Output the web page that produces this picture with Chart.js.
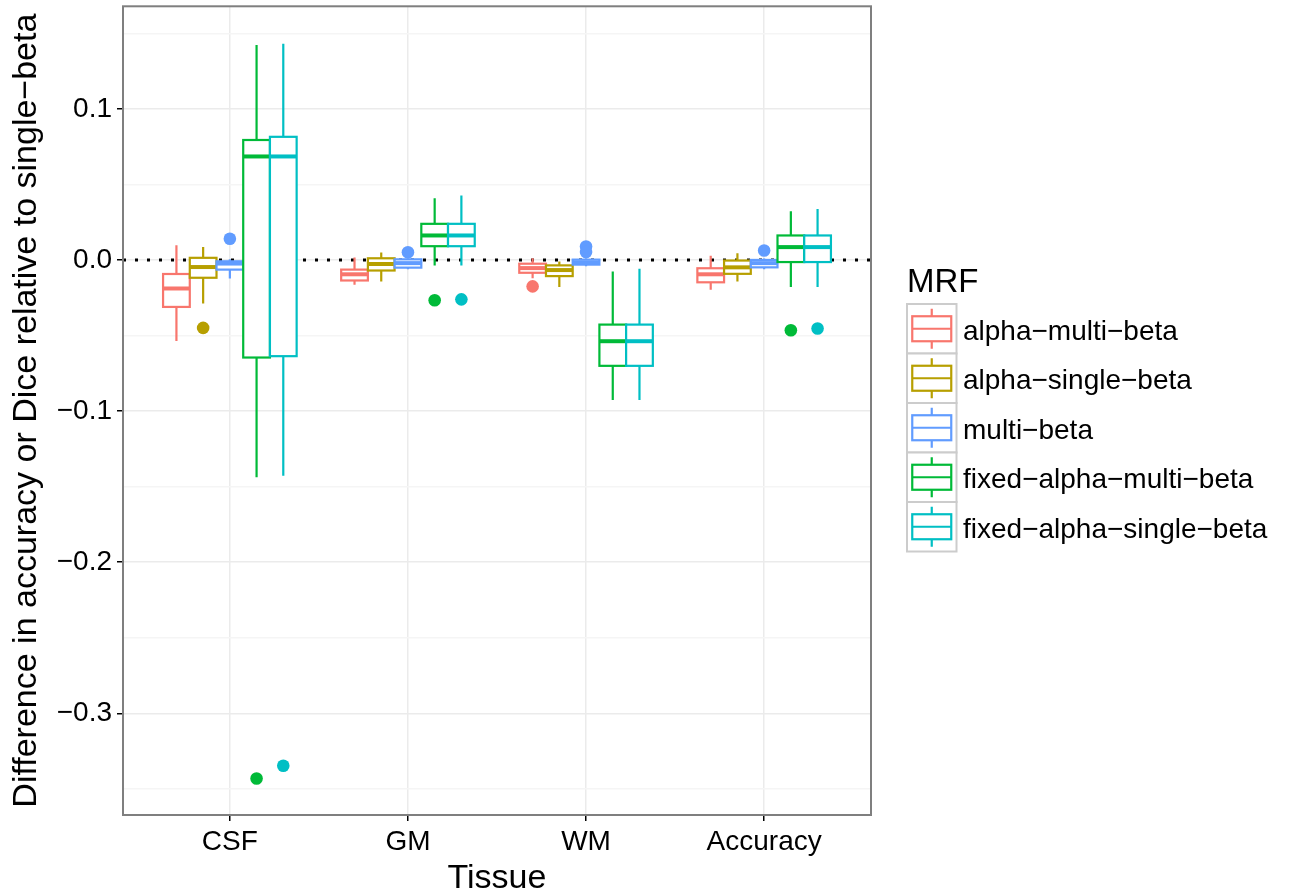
<!DOCTYPE html>
<html>
<head>
<meta charset="utf-8">
<script src="https://cdn.jsdelivr.net/npm/chart.js@4.4.1/dist/chart.umd.min.js"></script>
<style>
  html, body { margin: 0; padding: 0; background: #fff; }
  #wrap { width: 1295px; height: 896px; position: relative; }
</style>
</head>
<body>
<div id="wrap"><canvas id="chart"></canvas></div>
<script>
// categories on the x axis
const categories = ['CSF', 'GM', 'WM', 'Accuracy'];

// MRF variants (legend order)
const seriesNames = ['alpha−multi−beta', 'alpha−single−beta', 'multi−beta', 'fixed−alpha−multi−beta', 'fixed−alpha−single−beta'];
const seriesColors = ['#F8766D', '#B79F00', '#619CFF', '#00BA38', '#00BFC4'];

// box statistics, one row per series, columns = CSF, GM, WM, Accuracy
const whiskerHigh = [
  [0.0099, 0.0017, 0.0013, 0.0028],
  [0.0086, 0.0050, -0.0009, 0.0045],
  [0.0005, 0.0010, 0.0010, 0.0010],
  [0.1424, 0.0409, -0.0075, 0.0323],
  [0.1432, 0.0427, -0.0057, 0.0339]
];
const q3 = [
  [-0.0092, -0.0063, -0.0024, -0.0054],
  [0.0015, 0.0012, -0.0035, -0.0003],
  [-0.0008, 0.0005, 0.0003, 0.0001],
  [0.0795, 0.0240, -0.0427, 0.0163],
  [0.0816, 0.0240, -0.0427, 0.0163]
];
const median = [
  [-0.0188, -0.0094, -0.0053, -0.0094],
  [-0.0046, -0.0026, -0.0066, -0.0048],
  [-0.0023, -0.0020, -0.0015, -0.0020],
  [0.0686, 0.0163, -0.0537, 0.0086],
  [0.0686, 0.0163, -0.0537, 0.0086]
];
const q1 = [
  [-0.0310, -0.0135, -0.0084, -0.0147],
  [-0.0117, -0.0069, -0.0106, -0.0091],
  [-0.0063, -0.0050, -0.0030, -0.0048],
  [-0.0645, 0.0092, -0.0700, -0.0013],
  [-0.0636, 0.0092, -0.0700, -0.0013]
];
const whiskerLow = [
  [-0.0535, -0.0164, -0.0120, -0.0197],
  [-0.0288, -0.0142, -0.0178, -0.0142],
  [-0.0122, -0.0060, -0.0040, -0.0060],
  [-0.1437, -0.0035, -0.0926, -0.0178],
  [-0.1428, -0.0035, -0.0926, -0.0178]
];
// outliers per series: [category index, value]
const outliers = [
  [[2, -0.0174]],
  [[0, -0.0449]],
  [[0, 0.0141], [1, 0.0052], [2, 0.0090], [2, 0.0053], [3, 0.0063]],
  [[0, -0.3432], [1, -0.0266], [3, -0.0464]],
  [[0, -0.3347], [1, -0.0260], [3, -0.0453]]
];

// axis ticks
const yMajorTicks = [-0.3, -0.2, -0.1, 0.0, 0.1];
const yTickLabels = ['−0.3', '−0.2', '−0.1', '0.0', '0.1'];
const yMinorTicks = [-0.35, -0.25, -0.15, -0.05, 0.05, 0.15];

const FONT = '"Liberation Sans", Arial, Helvetica, sans-serif';
const boxStep = 0.15;      // dodge width 0.75 / 5 series
const offsetOf = s => (s - 2) * boxStep;
const LW = 2.2;            // box outline width
const MED_LW = 4;          // median line width

function majorIndex(v) {
  return yMajorTicks.findIndex(m => Math.abs(m - v) < 1e-9);
}

const datasets = seriesNames.map((name, s) => ({
  label: name,
  data: outliers[s].map(([c, v]) => ({ x: c + 1 + offsetOf(s), y: v })),
  backgroundColor: seriesColors[s],
  borderWidth: 0,
  pointRadius: 6.3,
  pointHoverRadius: 6.3
}));

const boxPlugin = {
  id: 'boxes',
  beforeDatasetsDraw(chart) {
    const { ctx, chartArea } = chart;
    const y0 = chart.scales.y.getPixelForValue(0);
    ctx.save();
    ctx.strokeStyle = '#000';
    ctx.lineWidth = 3;
    ctx.setLineDash([3, 9]);
    ctx.beginPath();
    ctx.moveTo(chartArea.left, y0);
    ctx.lineTo(chartArea.right, y0);
    ctx.stroke();
    ctx.restore();
  },
  afterDatasetsDraw(chart) {
    const { ctx } = chart;
    const xs = chart.scales.x, ys = chart.scales.y;
    ctx.save();
    seriesNames.forEach((name, s) => {
      categories.forEach((cat, c) => {
        const xc = xs.getPixelForValue(c + 1 + offsetOf(s));
        const xl = xs.getPixelForValue(c + 1 + offsetOf(s) - boxStep / 2);
        const xr = xs.getPixelForValue(c + 1 + offsetOf(s) + boxStep / 2);
        const yHi = ys.getPixelForValue(whiskerHigh[s][c]);
        const yQ3 = ys.getPixelForValue(q3[s][c]);
        const yMed = ys.getPixelForValue(median[s][c]);
        const yQ1 = ys.getPixelForValue(q1[s][c]);
        const yLo = ys.getPixelForValue(whiskerLow[s][c]);
        ctx.strokeStyle = seriesColors[s];
        ctx.lineWidth = LW;
        ctx.lineCap = 'butt';
        ctx.beginPath();
        ctx.moveTo(xc, yHi); ctx.lineTo(xc, yQ3);
        ctx.moveTo(xc, yQ1); ctx.lineTo(xc, yLo);
        ctx.stroke();
        ctx.fillStyle = '#fff';
        ctx.fillRect(xl, yQ3, xr - xl, yQ1 - yQ3);
        ctx.strokeRect(xl, yQ3, xr - xl, yQ1 - yQ3);
        ctx.lineWidth = MED_LW;
        ctx.beginPath();
        ctx.moveTo(xl, yMed); ctx.lineTo(xr, yMed);
        ctx.stroke();
      });
    });
    ctx.restore();
  },
  afterDraw(chart) {
    const { ctx, chartArea } = chart;
    ctx.save();
    // panel border
    ctx.strokeStyle = '#7f7f7f';
    ctx.lineWidth = 2;
    ctx.strokeRect(chartArea.left, chartArea.top, chartArea.right - chartArea.left, chartArea.bottom - chartArea.top);

    // legend
    const lx = 907, top0 = 304, kh = 49.5, kw = 49.5;
    ctx.fillStyle = '#000';
    ctx.font = '33px ' + FONT;
    ctx.textBaseline = 'alphabetic';
    ctx.textAlign = 'left';
    ctx.fillText('MRF', lx, 292);
    seriesNames.forEach((name, s) => {
      const ky = top0 + s * kh;
      const cx = lx + kw / 2, cy = ky + kh / 2;
      ctx.fillStyle = '#fff';
      ctx.fillRect(lx, ky, kw, kh);
      ctx.strokeStyle = '#cccccc';
      ctx.lineWidth = 2;
      ctx.strokeRect(lx, ky, kw, kh);
      ctx.strokeStyle = seriesColors[s];
      ctx.lineWidth = LW;
      ctx.beginPath();
      ctx.moveTo(cx, cy - 20); ctx.lineTo(cx, cy - 12.5);
      ctx.moveTo(cx, cy + 12.5); ctx.lineTo(cx, cy + 20);
      ctx.moveTo(cx - 19.5, cy); ctx.lineTo(cx + 19.5, cy);
      ctx.stroke();
      ctx.strokeRect(cx - 19.5, cy - 12.5, 39, 25);
      ctx.fillStyle = '#000';
      ctx.font = '28px ' + FONT;
      ctx.fillText(name, 963, cy + 11);
    });
    ctx.restore();
  }
};

new Chart(document.getElementById('chart'), {
  type: 'scatter',
  data: { datasets },
  options: {
    responsive: true,
    maintainAspectRatio: false,
    animation: false,
    layout: { padding: { top: 4, right: 424, left: 0, bottom: 0 } },
    plugins: { legend: { display: false }, tooltip: { enabled: false } },
    scales: {
      x: {
        type: 'linear',
        min: 0.4,
        max: 4.6,
        afterBuildTicks: sc => { sc.ticks = categories.map((c, i) => ({ value: i + 1 })); },
        afterFit: sc => { sc.height = 81; sc.paddingLeft = 0; sc.paddingRight = 0; },
        ticks: {
          autoSkip: false,
          maxRotation: 0,
          padding: 4,
          color: '#000',
          font: { family: FONT, size: 28 },
          callback: v => categories[Math.round(v) - 1]
        },
        grid: { color: '#ebebeb', lineWidth: 1.5, tickLength: 6, tickColor: '#000', tickWidth: 1.5 },
        border: { display: false },
        title: { display: true, text: 'Tissue', color: '#000', font: { family: FONT, size: 34, lineHeight: 1 }, padding: { top: 0, bottom: 0 } }
      },
      y: {
        type: 'linear',
        min: -0.36733,
        max: 0.16800,
        afterBuildTicks: sc => {
          sc.ticks = yMajorTicks.concat(yMinorTicks).sort((a, b) => a - b).map(v => ({ value: v }));
        },
        afterFit: sc => { sc.width = 123; sc.paddingTop = 0; sc.paddingBottom = 0; },
        ticks: {
          autoSkip: false,
          padding: 5,
          color: '#000',
          font: { family: FONT, size: 28 },
          callback: v => { const i = majorIndex(v); return i >= 0 ? yTickLabels[i] : ''; }
        },
        grid: {
          color: c => majorIndex(c.tick.value) >= 0 ? '#ebebeb' : '#f5f5f5',
          lineWidth: 1.5,
          tickLength: 6,
          tickWidth: 1.5,
          tickColor: c => majorIndex(c.tick.value) >= 0 ? '#000' : 'rgba(0,0,0,0)'
        },
        border: { display: false },
        title: { display: true, text: 'Difference in accuracy or Dice relative to single−beta', color: '#000', font: { family: FONT, size: 34 }, padding: { top: 6, bottom: 0 } }
      }
    }
  },
  plugins: [boxPlugin]
});
</script>
</body>
</html>
